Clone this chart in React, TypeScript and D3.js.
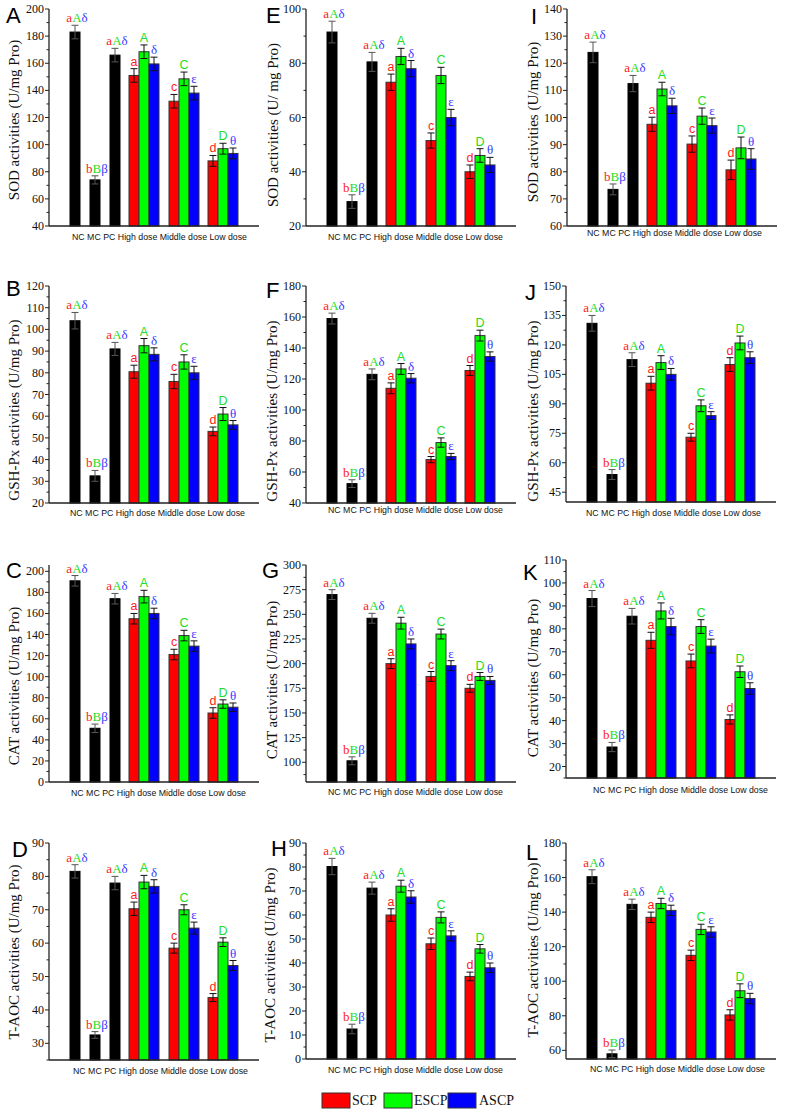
import React from "react";
import * as d3 from "d3";

// ---------- data ----------
const categories = ["NC", "MC", "PC", "High dose", "Middle dose", "Low dose"];
const seriesNames = ["SCP", "ESCP", "ASCP"];
const controlLetters = [["a", "A", "δ"], ["b", "B", "β"], ["a", "A", "δ"]];
const groupLetters = [["a", "A", "δ"], ["c", "C", "ε"], ["d", "D", "θ"]];

// order: NC, MC, PC, High(SCP,ESCP,ASCP), Middle(SCP,ESCP,ASCP), Low(SCP,ESCP,ASCP)
const sodA = [183, 74, 166, 151, 168.5, 159.5, 132, 148.5, 138, 88, 97, 93.5];
const sodAErr = [5, 3, 5, 5, 5, 5, 5, 5, 5, 4, 4, 4];
const sodE = [91.5, 29, 80.5, 73, 82.5, 78, 51.5, 75.5, 60, 40, 46, 42.5];
const sodEErr = [4, 2.5, 3.5, 3, 3, 3, 2.8, 3, 3, 2.5, 2.5, 2.8];
const sodI = [124, 73.5, 112.5, 97.5, 110.5, 104.3, 90.2, 100.5, 97, 80.7, 88.8, 84.7];
const sodIErr = [3.8, 2, 3, 2.6, 2.5, 2.8, 3, 3, 2.8, 3.6, 4, 3.8];

const gshB = [104, 32.5, 91, 80.5, 92.5, 88.5, 76, 85, 80, 53, 61, 56];
const gshBErr = [3.8, 2.5, 3, 3, 3.3, 3, 3.3, 3.3, 3, 2, 3, 2];
const gshF = [159, 52.5, 123, 114, 126.5, 120.5, 68, 79, 70, 125.5, 148, 134.5];
const gshFErr = [3.5, 2.5, 3.5, 3.5, 3.5, 3, 2, 3, 2, 3.2, 3.5, 3];
const gshJ = [131, 54, 112.5, 100.5, 111, 105, 73, 89, 84, 110, 121, 113.5];
const gshJErr = [4, 2.5, 3.5, 3.5, 3.5, 3, 2, 3, 2, 3.5, 3.5, 3];

const catC = [191, 51, 174, 155, 176, 160, 121, 139, 129, 65.5, 74, 71];
const catCErr = [5, 4, 5, 5, 6, 5, 5, 5, 5, 5, 4, 4];
const catG = [270, 101.5, 246, 200, 241, 220, 187, 230, 198, 175, 187, 183];
const catGErr = [5, 4, 5, 5, 6, 5, 5, 5, 5, 4, 4, 4];
const catK = [93.2, 28.5, 85.5, 75, 87.8, 81, 66, 81, 72.5, 40.5, 61.3, 54];
const catKErr = [3.5, 2, 3.4, 3.5, 3.5, 3.6, 3, 3, 3, 2, 2.5, 2.5];

const taocD = [81.5, 32.5, 78, 70.3, 78.3, 77, 58.5, 70, 64.5, 43.7, 60.3, 53.3];
const taocDErr = [2, 1, 2, 2, 2, 2, 1.5, 1.5, 1.8, 1.2, 1.3, 1.5];
const taocH = [80.2, 12.5, 71.2, 60, 72, 67.5, 48, 59, 51.3, 34.4, 45.9, 38];
const taocHErr = [3.4, 2, 2.5, 2.6, 2.5, 2.6, 2.4, 2.3, 2.1, 1.8, 1.8, 2];
const taocL = [160.5, 58, 144.5, 137, 145, 141, 115, 130, 128.5, 80.5, 94.5, 90];
const taocLErr = [4, 2.2, 3, 3, 3, 3, 3, 3, 3, 3, 4, 3];

const ticksA = [40, 60, 80, 100, 120, 140, 160, 180, 200];
const ticksE = [20, 40, 60, 80, 100];
const ticksI = [60, 70, 80, 90, 100, 110, 120, 130, 140];
const ticksB = [20, 30, 40, 50, 60, 70, 80, 90, 100, 110, 120];
const ticksF = [40, 60, 80, 100, 120, 140, 160, 180];
const ticksJ = [45, 60, 75, 90, 105, 120, 135, 150];
const ticksC = [0, 20, 40, 60, 80, 100, 120, 140, 160, 180, 200];
const ticksG = [100, 125, 150, 175, 200, 225, 250, 275, 300];
const ticksK = [20, 30, 40, 50, 60, 70, 80, 90, 100, 110];
const ticksD = [30, 40, 50, 60, 70, 80, 90];
const ticksH = [0, 10, 20, 30, 40, 50, 60, 70, 80, 90];
const ticksL = [60, 80, 100, 120, 140, 160, 180];

// ---------- layout ----------
const RED = "#ff0000";
const GREEN = "#00ff00";
const BLUE = "#0000ff";
const seriesColors = [RED, GREEN, BLUE];
const TXT_RED = "#ff1a1a";
const TXT_GREEN = "#22dd22";
const TXT_BLUE = "#3a3aff";
const SERIF = "'Liberation Serif', 'Times New Roman', serif";
const SANS = "'Liberation Sans', Arial, sans-serif";

const slots = [2.6, 4.6, 6.6, 9.5, 13.5, 17.4];

const panels = [
  { letter: "A", lx: 6, ly: 23, title: "SOD activities (U/mg Pro)", tx: 19, ty: 120, ax: 49, top: 9, bottom: 226, domain: [40, 200], ticks: ticksA, minor: 10, vals: sodA, errs: sodAErr, xlx: 23, xly: 14 },
  { letter: "E", lx: 266, ly: 23, title: "SOD activities (U/ mg Pro)", tx: 278, ty: 125, ax: 306, top: 9, bottom: 226, domain: [20, 100], ticks: ticksE, minor: 10, vals: sodE, errs: sodEErr, xlx: 22, xly: 14 },
  { letter: "I", lx: 531, ly: 24, title: "SOD activities (U/mg Pro)", tx: 538, ty: 122, ax: 567, top: 9, bottom: 226, domain: [60, 140], ticks: ticksI, minor: 5, vals: sodI, errs: sodIErr, xlx: 20, xly: 10 },
  { letter: "B", lx: 6, ly: 296, title: "GSH-Px activities (U/mg Pro)", tx: 19, ty: 410, ax: 49, top: 286, bottom: 503, domain: [20, 120], ticks: ticksB, minor: 5, vals: gshB, errs: gshBErr, xlx: 21, xly: 13 },
  { letter: "F", lx: 266, ly: 298, title: "GSH-Px activities (U/mg Pro)", tx: 277, ty: 411, ax: 306, top: 286, bottom: 503, domain: [40, 180], ticks: ticksF, minor: 10, vals: gshF, errs: gshFErr, xlx: 22, xly: 10 },
  { letter: "J", lx: 525, ly: 300, title: "GSH-Px activities (U/mg Pro)", tx: 538, ty: 411, ax: 566, top: 286, bottom: 502, domain: [40, 150], ticks: ticksJ, minor: 7.5, vals: gshJ, errs: gshJErr, xlx: 20, xly: 14 },
  { letter: "C", lx: 6, ly: 578, title: "CAT activities (U/mg Pro)", tx: 19, ty: 686, ax: 49, top: 565, bottom: 782, domain: [0, 206], ticks: ticksC, minor: 10, vals: catC, errs: catCErr, xlx: 22, xly: 14 },
  { letter: "G", lx: 262, ly: 578, title: "CAT activities (U/mg Pro)", tx: 277, ty: 680, ax: 306, top: 565, bottom: 782, domain: [80, 300], ticks: ticksG, minor: 12.5, vals: catG, errs: catGErr, xlx: 22, xly: 13 },
  { letter: "K", lx: 523, ly: 580, title: "CAT activities (U/mg Pro)", tx: 538, ty: 678, ax: 566, top: 560, bottom: 778, domain: [15, 110], ticks: ticksK, minor: 5, vals: catK, errs: catKErr, xlx: 27, xly: 15 },
  { letter: "D", lx: 12, ly: 857, title: "T-AOC activities (U/mg Pro)", tx: 19, ty: 952, ax: 49, top: 843, bottom: 1060, domain: [25, 90], ticks: ticksD, minor: 5, vals: taocD, errs: taocDErr, xlx: 24, xly: 14 },
  { letter: "H", lx: 271, ly: 856, title: "T-AOC activities (U/mg Pro)", tx: 275, ty: 955, ax: 306, top: 843, bottom: 1059, domain: [0, 90], ticks: ticksH, minor: 5, vals: taocH, errs: taocHErr, xlx: 22, xly: 14 },
  { letter: "L", lx: 526, ly: 860, title: "T-AOC activities (U/mg Pro)", tx: 538, ty: 950, ax: 566, top: 843, bottom: 1059, domain: [55, 180], ticks: ticksL, minor: 10, vals: taocL, errs: taocLErr, xlx: 24, xly: 13 },
];

function Panel({ p }: { p: any }) {
  const y = d3.scaleLinear().domain(p.domain).range([p.bottom, p.top]);
  const x = d3.scaleLinear().domain([0, 21]).range([p.ax, p.ax + 210]);
  const bw = x(1) - x(0);
  const minors = d3
    .range(Math.ceil(p.domain[0] / p.minor) * p.minor, p.domain[1] + 0.001, p.minor)
    .filter((v: number) => !p.ticks.some((t: number) => Math.abs(t - v) < 1e-6));

  const bars: any[] = [];
  categories.forEach((cat, ci) => {
    if (ci < 3) {
      bars.push({ cx: x(slots[ci]), v: p.vals[ci], e: p.errs[ci], color: "#000", ci, s: -1 });
    } else {
      seriesNames.forEach((sn, si) => {
        const idx = 3 + (ci - 3) * 3 + si;
        bars.push({ cx: x(slots[ci] + (si - 1)), v: p.vals[idx], e: p.errs[idx], color: seriesColors[si], ci, s: si });
      });
    }
  });

  const txtColors = [TXT_RED, TXT_GREEN, TXT_BLUE];

  return (
    <g>
      {bars.map((b, i) => (
        <rect
          key={"b" + i}
          x={b.cx - bw / 2}
          y={y(b.v)}
          width={bw}
          height={p.bottom - y(b.v)}
          fill={b.color}
          stroke={b.s < 0 ? "#000" : "#333"}
          strokeWidth={1}
        />
      ))}
      {bars.map((b, i) => {
        const y1 = y(b.v + b.e);
        const y2 = y(b.v - b.e);
        return (
          <g key={"e" + i} stroke={b.s < 0 ? "#555" : "#111"} strokeWidth={1}>
            <line x1={b.cx} x2={b.cx} y1={y1} y2={y2} />
            <line x1={b.cx - 3.5} x2={b.cx + 3.5} y1={y1} y2={y1} />
            <line x1={b.cx - 3.5} x2={b.cx + 3.5} y1={y2} y2={y2} />
          </g>
        );
      })}
      {bars.map((b, i) => {
        const ty = y(b.v + b.e) - 3;
        if (b.s < 0) {
          const L = controlLetters[b.ci];
          return (
            <text key={"l" + i} x={b.cx + 2} y={ty} textAnchor="middle" fontFamily={SERIF} fontSize={13}>
              <tspan fill={TXT_RED}>{L[0]}</tspan>
              <tspan fill={TXT_GREEN}>{L[1]}</tspan>
              <tspan fill={TXT_BLUE}>{L[2]}</tspan>
            </text>
          );
        }
        const L = groupLetters[b.ci - 3][b.s];
        return (
          <text
            key={"l" + i}
            x={b.cx}
            y={ty}
            textAnchor="middle"
            fontFamily={b.s === 2 ? SERIF : SANS}
            fontSize={b.s === 2 ? 13 : 12.5}
            fill={txtColors[b.s]}
          >
            {L}
          </text>
        );
      })}
      <line x1={p.ax} x2={p.ax} y1={p.top} y2={p.bottom} stroke="#222" strokeWidth={1.3} />
      <line x1={p.ax} x2={p.ax + 210} y1={p.bottom} y2={p.bottom} stroke="#222" strokeWidth={1.3} />
      {p.ticks.map((t: number) => (
        <g key={"t" + t}>
          <line x1={p.ax - 4} x2={p.ax} y1={y(t)} y2={y(t)} stroke="#222" strokeWidth={1} />
          <text x={p.ax - 5} y={y(t) + 4} textAnchor="end" fontFamily={SERIF} fontSize={12} fill="#111">
            {t}
          </text>
        </g>
      ))}
      {minors.map((t: number) => (
        <line key={"m" + t} x1={p.ax - 2.5} x2={p.ax} y1={y(t)} y2={y(t)} stroke="#222" strokeWidth={1} />
      ))}
      <text
        x={p.ax + p.xlx}
        y={p.bottom + p.xly}
        fontFamily={SANS}
        fontSize={9.5}
        textLength={175}
        lengthAdjust="spacingAndGlyphs"
        fill="#111"
      >
        {categories.join(" ")}
      </text>
      <text
        transform={`translate(${p.tx},${p.ty}) rotate(-90)`}
        textAnchor="middle"
        fontFamily={SERIF}
        fontSize={15}
        fill="#111"
      >
        {p.title}
      </text>
      <text x={p.lx} y={p.ly} fontFamily={SANS} fontSize={22} fill="#000">
        {p.letter}
      </text>
    </g>
  );
}

const legendX = [322, 384, 448];
const legendTextX = [352, 414, 479];

export default function App() {
  return (
    <svg
      width={787}
      height={1111}
      style={{ position: "absolute", left: 0, top: 0, background: "#fff" }}
    >
      <rect x={0} y={0} width={787} height={1111} fill="#fff" />
      {panels.map((p) => (
        <Panel key={p.letter} p={p} />
      ))}
      {seriesNames.map((s, i) => (
        <g key={s}>
          <rect x={legendX[i]} y={1093} width={28} height={15} fill={seriesColors[i]} stroke="#333" strokeWidth={1} />
          <text x={legendTextX[i]} y={1105} fontFamily={SERIF} fontSize={14} fill="#111">
            {s}
          </text>
        </g>
      ))}
    </svg>
  );
}
